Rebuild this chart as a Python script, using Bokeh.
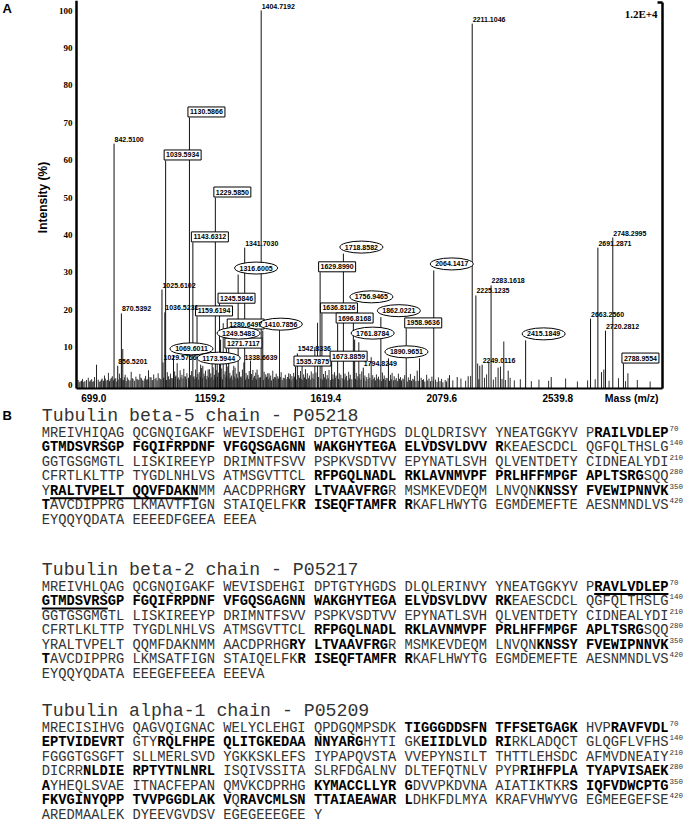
import math
from bokeh.plotting import figure
from bokeh.models import Range1d, FixedTicker, ColumnDataSource
from bokeh.core.properties import value
from bokeh.embed import file_html
from bokeh.resources import INLINE

# ---------------- Panel A data (MALDI-TOF spectrum) ----------------
label_mz = ["842.5100", "856.5201", "870.5392", "1025.6102", "1029.5766", "1036.5231",
            "1039.5934", "1069.6011", "1130.5866", "1143.6312", "1159.6194", "1173.5944",
            "1229.5850", "1245.5846", "1249.5483", "1271.7117", "1280.6497", "1316.6005",
            "1338.6639", "1341.7030", "1404.7192", "1410.7856", "1535.7875", "1542.8336",
            "1629.8990", "1636.8126", "1673.8859", "1696.8168", "1718.8582", "1756.9465",
            "1761.8784", "1794.8249", "1862.0221", "1890.9651", "1958.9636", "2064.1417",
            "2211.1046", "2225.1235", "2249.0116", "2283.1618", "2415.1849", "2663.2560",
            "2691.2871", "2720.2812", "2748.2995", "2788.9554"]
label_int = [64.4, 5.0, 19.0, 25.4, 5.9, 19.3, 59.9, 7.8, 71.4, 38.0, 18.2, 5.3,
             50.0, 21.6, 12.0, 9.6, 14.7, 29.4, 5.9, 36.6, 100.0, 14.4, 4.8, 8.3,
             30.0, 19.0, 6.1, 16.3, 35.0, 21.7, 12.0, 4.5, 18.0, 7.0, 15.0, 30.5,
             96.5, 23.8, 5.3, 26.5, 11.8, 17.6, 36.6, 14.4, 39.3, 5.6]
label_style = ["plain", "plain", "plain", "plain", "plain", "plain",
               "box", "ellipse", "box", "box", "box", "ellipse",
               "box", "box", "ellipse", "box", "box", "ellipse",
               "plain", "plain", "plain", "ellipse", "box", "plain",
               "box", "box", "box", "box", "ellipse", "ellipse",
               "ellipse", "plain", "ellipse", "ellipse", "box", "ellipse",
               "plain", "plain", "plain", "plain", "ellipse", "plain",
               "plain", "plain", "plain", "box"]

minor_mz = [775.5, 875.8, 974.0, 1083.7, 1181.7, 1202.0, 1217.5, 1236.6, 1259.6, 1300.0,
            1364.0, 1389.0, 1430.0, 1474.7, 1510.0, 1561.0, 1609.7, 1620.0, 1777.8, 1825.0,
            2001.0, 2009.7, 2124.4, 2153.7, 2195.7, 2232.0, 2240.0, 2274.5, 2310.0, 2319.0,
            2331.8, 2348.5, 2513.0, 2705.0, 2714.0, 2806.0]
minor_int = [5.3, 9.5, 3.8, 5.7, 5.0, 4.0, 6.4, 8.0, 16.4, 5.0,
             6.4, 4.0, 3.0, 15.3, 3.0, 6.9, 10.0, 16.5, 11.3, 7.3,
             3.7, 7.0, 2.5, 2.0, 2.2, 5.6, 5.0, 6.0, 4.5, 4.8,
             11.5, 3.7, 2.0, 3.3, 4.0, 3.0]

grass_mz = [705, 713, 722, 731, 744, 752, 761, 768, 782, 790,
            797, 806, 812, 821, 828, 836, 849, 863, 879, 885,
            893, 899, 908, 915, 926, 933, 941, 948, 957, 963,
            971, 980, 988, 994, 1003, 1011, 1019, 1046, 1051, 1058,
            1065, 1074, 1079, 1088, 1095, 1102, 1109, 1116, 1121, 1135,
            1139, 1148, 1154, 1163, 1168, 1177, 1186, 1192, 1198, 1207,
            1212, 1221, 1226, 1233, 1241, 1254, 1263, 1267, 1277, 1285,
            1291, 1297, 1305, 1311, 1322, 1328, 1333, 1347, 1353, 1359,
            1368, 1373, 1379, 1384, 1393, 1399, 1416, 1422, 1427, 1435,
            1441, 1449, 1455, 1462, 1468, 1481, 1489, 1497, 1505, 1516,
            1522, 1529, 1548, 1555, 1567, 1574, 1581, 1589, 1596, 1603,
            1614, 1643, 1650, 1657, 1664, 1679, 1685, 1691, 1703, 1709,
            1725, 1731, 1739, 1745, 1768, 1774, 1782, 1789, 1801, 1808,
            1816, 1831, 1838, 1845, 1853, 1868, 1875, 1882, 1899, 1905,
            1913, 1921, 1929, 1937, 1946, 1953, 1967, 1975, 1984, 1991,
            2016, 2025, 2037, 2046, 2057, 2071, 2082, 2094, 2108, 2119,
            2137, 2168, 2186, 2205, 2236, 2258, 2266, 2292, 2301, 2325,
            2338, 2356, 2372, 2395, 2437, 2466, 2503, 2568, 2613, 2652,
            2681, 2734, 2770, 2797, 2842, 2891]
grass_int = [1.2, 0.8, 1.5, 0.9, 1.8, 1.1, 0.7, 2.0, 1.3, 0.9,
             1.6, 2.4, 1.0, 3.1, 1.4, 2.2, 1.7, 2.9, 1.2, 2.6,
             1.9, 1.1, 3.4, 1.5, 2.1, 1.3, 2.8, 1.6, 1.0, 2.3,
             1.4, 2.0, 1.1, 2.7, 1.8, 3.0, 1.5, 3.3, 2.2, 2.9,
             1.7, 3.5, 2.4, 1.9, 3.8, 2.6, 4.2, 2.1, 3.0, 2.5,
             3.6, 2.2, 4.0, 2.8, 3.3, 4.4, 2.9, 3.7, 2.3, 4.1,
             3.0, 4.6, 2.6, 3.9, 3.2, 4.3, 2.7, 3.5, 4.8, 3.1,
             2.4, 3.8, 4.5, 2.9, 3.4, 2.2, 4.0, 3.1, 2.5, 3.6,
             2.8, 3.9, 2.3, 3.2, 2.6, 1.9, 3.4, 2.7, 2.1, 3.0,
             2.4, 3.7, 2.0, 2.9, 2.2, 3.3, 1.8, 2.6, 2.0, 2.8,
             2.3, 3.1, 2.5, 3.6, 2.7, 4.1, 3.0, 2.4, 3.5, 2.9,
             3.2, 2.8, 3.6, 2.5, 3.9, 2.7, 3.3, 2.4, 3.0, 2.6,
             2.9, 2.3, 3.4, 2.6, 3.1, 2.2, 2.8, 3.5, 2.4, 2.0,
             3.0, 2.5, 1.9, 2.7, 2.1, 3.2, 2.4, 1.8, 2.6, 3.1,
             2.2, 1.7, 2.9, 2.0, 1.6, 2.5, 1.9, 2.8, 1.5, 2.3,
             1.8, 1.4, 2.6, 1.6, 2.1, 1.3, 1.9, 1.5, 1.2, 1.7,
             1.1, 1.6, 1.0, 2.3, 1.4, 1.8, 2.7, 1.3, 2.0, 1.5,
             1.2, 1.8, 1.1, 1.4, 0.9, 1.3, 1.0, 1.6, 0.8, 1.1,
             1.4, 1.0, 1.7, 0.9, 1.2, 0.8]

baseline_mz = [709, 718, 727, 737, 748, 757, 765, 775, 786, 794,
               802, 809, 817, 825, 832, 840, 845, 853, 858, 868,
               873, 882, 889, 896, 904, 912, 920, 930, 937, 945,
               952, 960, 967, 975, 984, 991, 999, 1007, 1015, 1022,
               1032, 1043, 1049, 1055, 1061, 1069, 1077, 1085, 1092, 1098,
               1106, 1113, 1119, 1127, 1133, 1145, 1151, 1157, 1166, 1172,
               1180, 1189, 1195, 1203, 1210, 1216, 1224, 1231, 1238, 1247,
               1251, 1257, 1270, 1274, 1283, 1288, 1294, 1302, 1308, 1314,
               1320, 1325, 1331, 1345, 1350, 1356, 1362, 1371, 1376, 1382,
               1387, 1396, 1402, 1413, 1420, 1425, 1432, 1438, 1444, 1452,
               1459, 1465, 1471, 1478, 1485, 1493, 1500, 1508, 1513, 1519,
               1526, 1532, 1539, 1551, 1558, 1564, 1570, 1578, 1585, 1592,
               1599, 1606, 1624, 1633, 1640, 1647, 1654, 1661, 1669, 1676,
               1682, 1688, 1700, 1706, 1714, 1722, 1728, 1736, 1742, 1751,
               1765, 1771, 1779, 1786, 1797, 1805, 1813, 1820, 1828, 1835,
               1842, 1850, 1858, 1865, 1872, 1879, 1886, 1895, 1902, 1910,
               1917, 1925, 1933, 1941, 1950, 1963, 1971, 1979, 1988, 1996,
               2005, 2021, 2030, 2041, 2052, 2062, 2077, 2088, 2099, 2113]
baseline_int = [0.6, 1.0, 0.7, 1.2, 0.8, 1.4, 0.9, 1.1, 0.7, 1.3,
                1.0, 1.6, 1.2, 0.9, 1.8, 1.1, 1.5, 0.8, 1.3, 1.7,
                1.2, 1.9, 0.9, 1.4, 1.1, 1.7, 1.0, 1.5, 1.2, 1.8,
                1.1, 1.6, 1.3, 1.0, 1.9, 1.2, 1.5, 1.1, 1.7, 1.3,
                1.8, 1.2, 2.0, 1.4, 1.7, 1.1, 2.1, 1.5, 1.3, 1.9,
                1.6, 2.2, 1.4, 1.8, 1.2, 2.0, 1.5, 1.9, 1.3, 2.1,
                1.7, 2.2, 1.4, 1.9, 1.6, 2.0, 1.3, 1.8, 2.1, 1.5,
                2.0, 1.4, 1.8, 2.2, 1.5, 1.9, 1.3, 2.1, 1.6, 1.8,
                1.4, 2.0, 1.7, 1.3, 1.9, 1.5, 2.1, 1.2, 1.8, 1.6,
                1.3, 1.7, 1.9, 1.2, 1.6, 2.0, 1.4, 1.8, 1.1, 1.5,
                1.9, 1.3, 1.6, 2.0, 1.2, 1.7, 1.4, 1.9, 1.5, 1.1,
                1.6, 2.1, 1.3, 1.8, 1.5, 1.2, 1.9, 1.4, 1.7, 1.3,
                1.8, 1.5, 2.0, 1.6, 1.3, 1.9, 1.4, 1.7, 1.2, 1.6,
                1.4, 1.8, 1.5, 1.2, 1.7, 1.3, 1.9, 1.1, 1.6, 1.4,
                1.5, 1.2, 1.7, 1.3, 1.6, 1.0, 1.4, 1.8, 1.2, 1.5,
                1.1, 1.6, 1.3, 0.9, 1.5, 1.2, 1.7, 1.0, 1.4, 1.1,
                1.3, 0.9, 1.5, 1.1, 1.4, 0.8, 1.2, 1.0, 1.3, 0.9,
                1.0, 1.2, 0.8, 1.1, 0.9, 1.0, 0.7, 0.9, 0.6, 0.8]

x_tick_values = [699.0, 1159.2, 1619.4, 2079.6, 2539.8]
y_tick_values = [0, 10, 20, 30, 40, 50, 60, 70, 80, 90, 100]
scale_text = "1.2E+4"
x_title = "Mass (m/z)"
y_title = "Intensity (%)"

# ---------------- Panel B data (sequence coverage) ----------------
# '*' toggles bold (matched peptides), '_' toggles underline
protein_titles = ["Tubulin beta-5 chain - P05218",
                  "Tubulin beta-2 chain - P05217",
                  "Tubulin alpha-1 chain - P05209"]
beta5_rows = [
    "MREIVHIQAG QCGNQIGAKF WEVISDEHGI DPTGTYHGDS DLQLDRISVY YNEATGGKYV P*RAILVDLEP*",
    "*GTMDSVRSGP FGQIFRPDNF VFGQSGAGNN WAKGHYTEGA ELVDSVLDVV R*KEAESCDCL QGFQLTHSLG",
    "GGTGSGMGTL LISKIREEYP DRIMNTFSVV PSPKVSDTVV EPYNATLSVH QLVENTDETY CIDNEALYDI",
    "CFRTLKLTTP TYGDLNHLVS ATMSGVTTCL *RFPGQLNADL RKLAVNMVPF PRLHFFMPGF APLTSRG*SQQ",
    "Y*_RALTVPELT QQVFDAKN_*MM AACDPRHG*RY LTVAAVFRG*R MSMKEVDEQM LNVQN*KNSSY FVEWIPNNVK*",
    "*T*AVCDIPPRG LKMAVTFIGN STAIQELFK*R ISEQFTAMFR R*KAFLHWYTG EGMDEMEFTE AESNMNDLVS",
    "EYQQYQDATA EEEEDFGEEA EEEA",
]
beta2_rows = [
    "MREIVHLQAG QCGNQIGAKF WEVISDEHGI DPTGTYHGDS DLQLERINVY YNEATGGKYV P*_RAVLVDLEP_*",
    "*_GTMDSVRS_GP FGQIFRPDNF VFGQSGAGNN WAKGHYTEGA ELVDSVLDVV RK*EAESCDCL QGFQLTHSLG",
    "GGTGSGMGTL LISKIREEYP DRIMNTFSVV PSPKVSDTVV EPYNATLSVH QLVENTDETY CIDNEALYDI",
    "CFRTLKLTTP TYGDLNHLVS ATMSGVTTCL *RFPGQLNADL RKLAVNMVPF PRLHFFMPGF APLTSRG*SQQ",
    "YRALTVPELT QQMFDAKNMM AACDPRHG*RY LTVAAVFRG*R MSMKEVDEQM LNVQN*KNSSY FVEWIPNNVK*",
    "*T*AVCDIPPRG LKMSATFIGN STAIQELFK*R ISEQFTAMFR R*KAFLHWYTG EGMDEMEFTE AESNMNDLVS",
    "EYQQYQDATA EEEGEFEEEA EEEVA",
]
alpha1_rows = [
    "MRECISIHVG QAGVQIGNAC WELYCLEHGI QPDGQMPSDK *TIGGGDDSFN TFFSETGAGK* HVP*RAVFVDL*",
    "*EPTVIDEVRT* GTY*RQLFHPE QLITGKEDAA NNYARG*HYTI GK*EIIDLVLD RI*RKLADQCT GLQGFLVFHS",
    "FGGGTGSGFT SLLMERLSVD YGKKSKLEFS IYPAPQVSTA VVEPYNSILT THTTLEHSDC AFMVDNEAIY",
    "DICRR*NLDIE RPTYTNLNRL* ISQIVSSITA SLRFDGALNV DLTEFQTNLV PYP*RIHFPLA TYAPVISAEK*",
    "*A*YHEQLSVAE ITNACFEPAN QMVKCDPRHG *KYMACCLLYR G*DVVPKDVNA AIATIKTKR*S IQFVDWCPTG*",
    "*FKVGINYQPP TVVPGGDLAK V*Q*RAVCMLSN TTAIAEAWAR L*DHKFDLMYA KRAFVHWYVG EGMEEGEFSE",
    "AREDMAALEK DYEEVGVDSV EGEGEEEGEE Y",
]
residue_numbers = ["70", "140", "210", "280", "350", "420"]

# ---------------- geometry ----------------
W, H = 685, 837
AX_L_PX, AX_R_PX, AX_B_PX, AX_T_PX = 76.0, 662.0, 388.0, 2.0
PX_PER_DA = 0.2617
PX_PER_PCT = 3.74
ZERO_PX = 384.0
x_axis_start = 699.0
xr0 = x_axis_start - AX_L_PX / PX_PER_DA
xr1 = x_axis_start + (W - AX_L_PX) / PX_PER_DA
yr0 = -(H - ZERO_PX) / PX_PER_PCT
yr1 = ZERO_PX / PX_PER_PCT
x_axis_end = x_axis_start + (AX_R_PX - AX_L_PX) / PX_PER_DA
y_axis_bottom = -(AX_B_PX - ZERO_PX) / PX_PER_PCT
y_axis_top = (ZERO_PX - AX_T_PX) / PX_PER_PCT
XPX = 1.0 / PX_PER_DA
YPX = 1.0 / PX_PER_PCT

SANS = value("Liberation Sans")
SERIF = value("Liberation Serif")
MONO = value("Liberation Mono")

p = figure(width=W, height=H, x_range=Range1d(xr0, xr1), y_range=Range1d(yr0, yr1),
           output_backend="svg", toolbar_location=None, min_border=0)
p.extra_x_ranges = {"px": Range1d(0, W)}
p.extra_y_ranges = {"px": Range1d(H, 0)}
p.outline_line_color = None
p.xgrid.visible = False
p.ygrid.visible = False
p.background_fill_color = "white"
p.border_fill_color = "white"
PX = dict(x_range_name="px", y_range_name="px")

# y axis (left spectrum axis, fixed inside the canvas)
yax = p.yaxis[0]
yax.fixed_location = x_axis_start
yax.bounds = (y_axis_bottom, yr1)
yax.ticker = FixedTicker(ticks=y_tick_values)
yax.axis_line_width = 2.5
yax.axis_line_color = "black"
yax.major_tick_out = 0
yax.major_tick_in = 0
yax.minor_tick_out = 0
yax.minor_tick_in = 0
yax.major_label_standoff = 4
yax.major_label_text_font = "Liberation Serif"
yax.major_label_text_font_style = "bold"
yax.major_label_text_font_size = "9px"
yax.major_label_text_color = "black"

# x axis: tick labels in the reference are set a little tighter than the peak scale
LABEL_X0_PX, LABEL_STEP_PX = 17.3, 116.0
xtick_pos = [round(x_axis_start + (LABEL_X0_PX + i * LABEL_STEP_PX) * XPX, 2)
             for i in range(len(x_tick_values))]
xax = p.xaxis[0]
xax.fixed_location = y_axis_bottom
xax.bounds = (x_axis_start, x_axis_end)
xax.ticker = FixedTicker(ticks=xtick_pos)
xax.major_label_overrides = {pos: f"{v:.1f}" for pos, v in zip(xtick_pos, x_tick_values)}
xax.axis_line_width = 2
xax.axis_line_color = "black"
xax.major_tick_out = 0
xax.major_tick_in = 0
xax.minor_tick_out = 0
xax.minor_tick_in = 0
xax.major_label_standoff = 5
xax.major_label_text_font = "Liberation Sans"
xax.major_label_text_font_style = "bold"
xax.major_label_text_font_size = "10px"
xax.major_label_text_color = "black"

# right-hand frame line with its top bracket
p.segment(x0=[x_axis_end, x_axis_end - 5 * XPX], y0=[y_axis_bottom, y_axis_top],
          x1=[x_axis_end, x_axis_end], y1=[y_axis_top, y_axis_top],
          line_color="black", line_width=2.5)

# spectrum lines
p.segment(x0=baseline_mz, y0=[y_axis_bottom] * len(baseline_mz), x1=baseline_mz, y1=baseline_int,
          line_color="#2a2a2a", line_width=1)
p.segment(x0=grass_mz, y0=[y_axis_bottom] * len(grass_mz), x1=grass_mz, y1=grass_int,
          line_color="#333333", line_width=1)
p.segment(x0=minor_mz, y0=[y_axis_bottom] * len(minor_mz), x1=minor_mz, y1=minor_int,
          line_color="#222222", line_width=1)
lab_x = [float(m) for m in label_mz]
p.segment(x0=lab_x, y0=[y_axis_bottom] * len(lab_x), x1=lab_x, y1=label_int,
          line_color="#111111", line_width=1)

# peak labels
plain = dict(x=[], y=[], t=[])
boxed = dict(x=[], y=[], t=[])
ell = dict(x=[], y=[], t=[])
for m, h, s in zip(label_mz, label_int, label_style):
    mz = float(m)
    if s == "plain":
        plain["x"].append(mz + 0.5 * XPX)
        plain["y"].append(h + 4.5 * YPX)
        plain["t"].append(m)
    elif s == "box":
        boxed["x"].append(mz + 17 * XPX)
        boxed["y"].append(h + 5.5 * YPX)
        boxed["t"].append(m)
    else:
        ell["x"].append(mz + 18 * XPX)
        ell["y"].append(h + 6.5 * YPX)
        ell["t"].append(m)

src_b = ColumnDataSource(boxed)
src_e = ColumnDataSource(ell)
p.rect(x="x", y="y", width=37, height=10, width_units="screen", height_units="screen",
       source=src_b, fill_color="white", line_color="black", line_width=1)
p.ellipse(x="x", y="y", width=43, height=12, width_units="screen", height_units="screen",
          source=src_e, fill_color="white", line_color="black", line_width=1)
common = dict(text_font=SANS, text_font_size="7px", text_font_style="bold", text_color="black",
              text_baseline="middle")
p.text(x="x", y="y", text="t", source=ColumnDataSource(plain), text_align="left", **common)
p.text(x="x", y="y", text="t", source=src_b, text_align="center", **common)
p.text(x="x", y="y", text="t", source=src_e, text_align="center", **common)

# panel texts (page-pixel coordinates)
p.text(x=[657], y=[13], text=[scale_text], text_font=SERIF, text_font_style="bold",
       text_font_size="11px", text_color="black", text_align="right", text_baseline="middle", **PX)
p.text(x=[658], y=[397], text=[x_title], text_font=SANS, text_font_style="bold",
       text_font_size="10.5px", text_color="black", text_align="right", text_baseline="middle", **PX)
p.text(x=[42], y=[197], text=[y_title], angle=math.pi / 2, text_font=SANS, text_font_style="bold",
       text_font_size="12px", text_color="black", text_align="center", text_baseline="middle", **PX)
p.text(x=[2, 2], y=[8, 415], text=["A", "B"], text_font=SANS, text_font_style="bold",
       text_font_size="13px", text_color="black", text_align="left", text_baseline="middle", **PX)

# ---------------- Panel B ----------------
X0 = 41.3
CW = 8.245
SEQ_SIZE = f"{CW / 0.6:.2f}px"
TITLE_Y = [415, 569, 710]
ROW_DY0 = 17.5
ROW_STEP = 14.55


def parse(row):
    runs, unders = [], []
    bold = under = False
    col, cur, ustart = 0, None, 0
    for ch in row:
        if ch == "*":
            bold = not bold
            continue
        if ch == "_":
            if not under:
                ustart = col
            else:
                unders.append((ustart, col))
            under = not under
            continue
        if ch == " ":
            col += 1
            cur = None
            continue
        if cur is not None and cur[2] == bold:
            cur[1] += ch
        else:
            cur = [col, ch, bold]
            runs.append(cur)
        col += 1
    return runs, unders


norm = dict(x=[], y=[], t=[])
bld = dict(x=[], y=[], t=[])
ul = dict(x0=[], x1=[], y=[])
sup = dict(x=[], y=[], t=[])
titles = dict(x=[], y=[], t=[])
for title, rows, ty in zip(protein_titles, [beta5_rows, beta2_rows, alpha1_rows], TITLE_Y):
    titles["x"].append(X0)
    titles["y"].append(ty)
    titles["t"].append(title)
    for i, row in enumerate(rows):
        ry = ty + ROW_DY0 + i * ROW_STEP
        runs, unders = parse(row)
        for c, txt, b in runs:
            d = bld if b else norm
            d["x"].append(X0 + c * CW)
            d["y"].append(ry)
            d["t"].append(txt)
        for a, b2 in unders:
            ul["x0"].append(X0 + a * CW)
            ul["x1"].append(X0 + b2 * CW)
            ul["y"].append(ry + 7)
        if i < len(residue_numbers):
            sup["x"].append(X0 + 76 * CW + 1.0)
            sup["y"].append(ry - 5)
            sup["t"].append(residue_numbers[i])

p.text(x="x", y="y", text="t", source=ColumnDataSource(titles), text_font=MONO,
       text_font_size="18.2px", text_color="#333333", text_align="left", text_baseline="middle", **PX)
p.text(x="x", y="y", text="t", source=ColumnDataSource(norm), text_font=MONO,
       text_font_size=SEQ_SIZE, text_color="#333333", text_align="left", text_baseline="middle", **PX)
p.text(x="x", y="y", text="t", source=ColumnDataSource(bld), text_font=MONO,
       text_font_size=SEQ_SIZE, text_font_style="bold", text_color="black",
       text_align="left", text_baseline="middle", **PX)
p.segment(x0="x0", y0="y", x1="x1", y1="y", source=ColumnDataSource(ul),
          line_color="black", line_width=2, **PX)
p.text(x="x", y="y", text="t", source=ColumnDataSource(sup), text_font=MONO,
       text_font_size="7.5px", text_color="#333333", text_align="left", text_baseline="middle", **PX)

open("out.html", "w").write(file_html(p, INLINE))
